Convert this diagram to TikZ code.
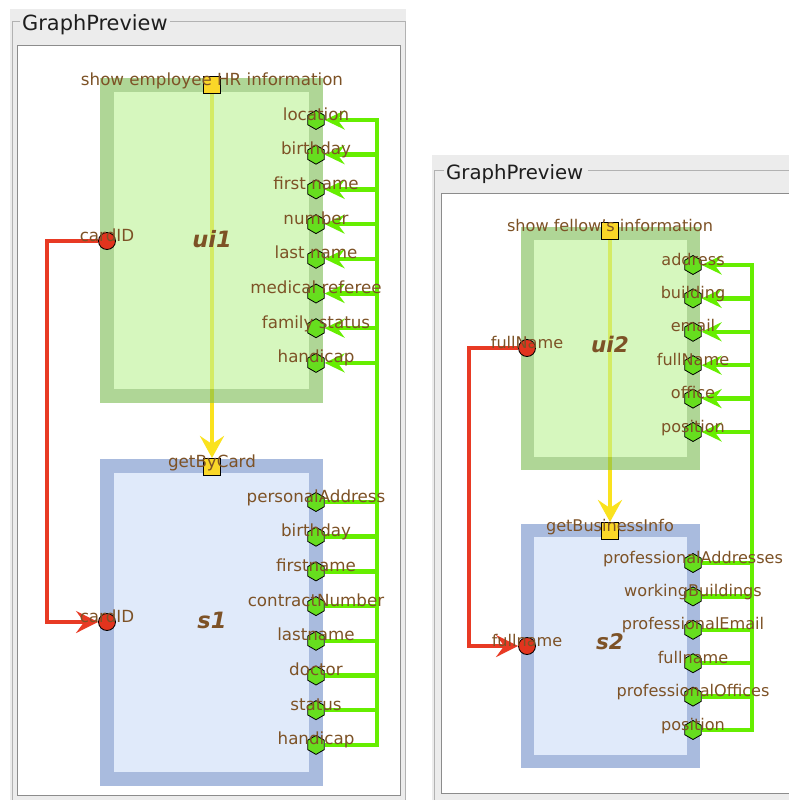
\documentclass[tikz,border=0pt]{standalone}
\usepackage{fontspec}
\setmainfont{DejaVu Sans}
\usetikzlibrary{shapes.geometric,arrows.meta}
\definecolor{txtbrown}{RGB}{125,82,38}
\definecolor{titleblack}{RGB}{30,30,30}
\definecolor{panelgray}{RGB}{236,236,236}
\definecolor{framegray}{RGB}{178,178,178}
\definecolor{innergray}{RGB}{140,140,140}
\definecolor{uifill}{RGB}{188,242,147}
\definecolor{uiborder}{RGB}{122,188,80}
\definecolor{sfill}{RGB}{204,220,247}
\definecolor{sborder}{RGB}{113,143,200}
\definecolor{wiregreen}{RGB}{102,238,0}
\definecolor{portgreen}{RGB}{102,222,30}
\definecolor{wirered}{RGB}{232,58,36}
\definecolor{portred}{RGB}{226,52,30}
\definecolor{wireyellow}{RGB}{250,226,30}
\definecolor{portyellow}{RGB}{250,215,40}
\newcommand\plabL{\fontsize{16.7}{20}\selectfont}
\newcommand\plabR{\fontsize{16.1}{19}\selectfont}
\newcommand\blabL{\fontsize{22.5}{26}\selectfont\bfseries\itshape}
\newcommand\blabR{\fontsize{21.5}{25}\selectfont\bfseries\itshape}
\pgfdeclarelayer{panel}\pgfdeclarelayer{yel}\pgfdeclarelayer{boxes}\pgfdeclarelayer{wires}
\pgfsetlayers{panel,yel,boxes,wires,main}
\tikzset{
  hexport/.style={regular polygon, regular polygon sides=6, shape border rotate=30, minimum size=19pt, inner sep=0pt, fill=portgreen, draw=black, line width=0.8pt},
  redport/.style={circle, minimum size=17pt, inner sep=0pt, fill=portred, draw=black, line width=0.8pt},
  sqport/.style={rectangle, minimum size=17pt, inner sep=0pt, fill=portyellow, draw=black, line width=1pt},
  plab/.style={inner sep=0pt, text=txtbrown, anchor=base},
  blab/.style={inner sep=0pt, text=txtbrown},
  ywire/.style={draw=wireyellow, line width=4.5pt, -{Stealth[length=22pt,width=24pt,inset=8pt]}},
  rwire/.style={draw=wirered, line width=4.5pt, line join=miter, -{Stealth[length=22pt,width=22pt,inset=8pt]}},
  gwire/.style={draw=wiregreen, line width=4.5pt},
  garrow/.style={draw=wiregreen, line width=4.5pt, -{Stealth[length=20pt,width=19pt,inset=7pt]}},
  uibox/.style={draw=uiborder, draw opacity=0.6},
  uiin/.style={fill=uifill, fill opacity=0.6},
  sbox/.style={draw=sborder, draw opacity=0.6},
  sin/.style={fill=sfill, fill opacity=0.6},
}
\begin{document}
\begin{tikzpicture}[x=1pt,y=-1pt]
\useasboundingbox (0,0) rectangle (789,800);

% ---------- panels ----------
\begin{pgfonlayer}{panel}
\fill[white] (0,0) rectangle (789,800);
\fill[panelgray] (10,9) rectangle (406,800);
\draw[framegray, line width=1pt] (20,22) -- (12,22) -- (12,800);
\draw[framegray, line width=1pt] (170,22) -- (405,22) -- (405,800);
\filldraw[fill=white, draw=innergray, line width=1pt] (17,46) rectangle (400,795);
\fill[panelgray] (432,155) rectangle (789,800);
\draw[framegray, line width=1pt] (444,170) -- (434,170) -- (434,800);
\draw[framegray, line width=1pt] (588,170) -- (789,170);
\fill[white] (441,193) rectangle (795,793);
\draw[innergray, line width=1pt] (795,193) -- (441,193) -- (441,793) -- (795,793);
\end{pgfonlayer}
\node[anchor=base west, inner sep=0pt, text=titleblack, font=\fontsize{20.9}{24}\selectfont] (title1) at (22,31) {GraphPreview};
\node[anchor=base west, inner sep=0pt, text=titleblack, font=\fontsize{19.7}{23}\selectfont] (title2) at (446,179) {GraphPreview};

% ---------- left diagram ----------
\begin{pgfonlayer}{boxes}
\fill[uiin] (114,92) rectangle (309,389);
\draw[uibox, line width=14pt] (107,85) rectangle (316,396);
\fill[sin] (114,473) rectangle (309,772);
\draw[sbox, line width=14pt] (107,466) rectangle (316,779);
\end{pgfonlayer}
\node[blab, font=\blabL] (ui1) at (212,239) {ui1};
\node[blab, font=\blabL] (s1) at (212,620) {s1};

\node[sqport] (sq1) at (212,85) {};
\node[sqport] (sq2) at (212,467) {};
\node[redport] (r1) at (107,241) {};
\node[redport] (r2) at (107,622) {};
\coordinate (rb1) at (47,241);
\coordinate (gt1) at (377,120);
\coordinate (gb1) at (377,745);

\begin{pgfonlayer}{yel}
\draw[ywire] (sq1) -- (sq2);
\end{pgfonlayer}
\begin{pgfonlayer}{wires}
\draw[rwire] (r1) -- (rb1) |- (r2);
\draw[gwire, line cap=rect] (gt1) -- (gb1);
\end{pgfonlayer}

\foreach \t [count=\i from 0] in {location,birthday,first name,number,last name,medical referee,family status,handicap} {
  \node[hexport] (uip\i) at (316,{120+34.7*\i}) {};
  \begin{pgfonlayer}{wires}
  \draw[garrow] (uip\i -| gt1) -- (uip\i);
  \end{pgfonlayer}
  \node[plab, font=\plabL] (uil\i) at (uip\i.center) {\t};
}
\foreach \t [count=\i from 0] in {personalAddress,birthday,firstname,contractNumber,lastname,doctor,status,handicap} {
  \node[hexport] (sp\i) at (316,{502+34.7*\i}) {};
  \begin{pgfonlayer}{wires}
  \draw[gwire] (sp\i) -- (sp\i -| gt1);
  \end{pgfonlayer}
  \node[plab, font=\plabL] (sl\i) at (sp\i.center) {\t};
}
\node[plab, font=\plabL] (tl1) at (sq1.center) {show employee HR information};
\node[plab, font=\plabL] (tl2) at (sq2.center) {getByCard};
\node[plab, font=\plabL] (rl1) at (r1.center) {cardID};
\node[plab, font=\plabL] (rl2) at (r2.center) {cardID};

% ---------- right diagram ----------
\begin{pgfonlayer}{boxes}
\fill[uiin] (533.5,239.5) rectangle (687,457);
\draw[uibox, line width=13pt] (527,233) rectangle (693.5,463.5);
\fill[sin] (533.5,536.5) rectangle (687,755);
\draw[sbox, line width=13pt] (527,530) rectangle (693.5,761.5);
\end{pgfonlayer}
\node[blab, font=\blabR] (ui2) at (610,344) {ui2};
\node[blab, font=\blabR] (s2) at (610,642) {s2};

\node[sqport] (sq3) at (610,231) {};
\node[sqport] (sq4) at (610,531) {};
\node[redport] (r3) at (527,348) {};
\node[redport] (r4) at (527,646) {};
\coordinate (rb2) at (469,348);
\coordinate (gt2) at (752,265);
\coordinate (gb2) at (752,730);

\begin{pgfonlayer}{yel}
\draw[ywire] (sq3) -- (sq4);
\end{pgfonlayer}
\begin{pgfonlayer}{wires}
\draw[rwire] (r3) -- (rb2) |- (r4);
\draw[gwire, line cap=rect] (gt2) -- (gb2);
\end{pgfonlayer}

\foreach \t [count=\i from 0] in {address,building,email,fullName,office,position} {
  \node[hexport] (uiq\i) at (693,{265+33.4*\i}) {};
  \begin{pgfonlayer}{wires}
  \draw[garrow] (uiq\i -| gt2) -- (uiq\i);
  \end{pgfonlayer}
  \node[plab, font=\plabR] (uim\i) at (uiq\i.center) {\t};
}
\foreach \t [count=\i from 0] in {professionalAddresses,workingBuildings,professionalEmail,fullname,professionalOffices,position} {
  \node[hexport] (sq\i x) at (693,{563+33.4*\i}) {};
  \begin{pgfonlayer}{wires}
  \draw[gwire] (sq\i x) -- (sq\i x -| gt2);
  \end{pgfonlayer}
  \node[plab, font=\plabR] (sm\i) at (sq\i x.center) {\t};
}
\node[plab, font=\plabR] (tl3) at (sq3.center) {show fellow's information};
\node[plab, font=\plabR] (tl4) at (sq4.center) {getBusinessInfo};
\node[plab, font=\plabR] (rl3) at (r3.center) {fullName};
\node[plab, font=\plabR] (rl4) at (r4.center) {fullname};
\end{tikzpicture}
\end{document}
